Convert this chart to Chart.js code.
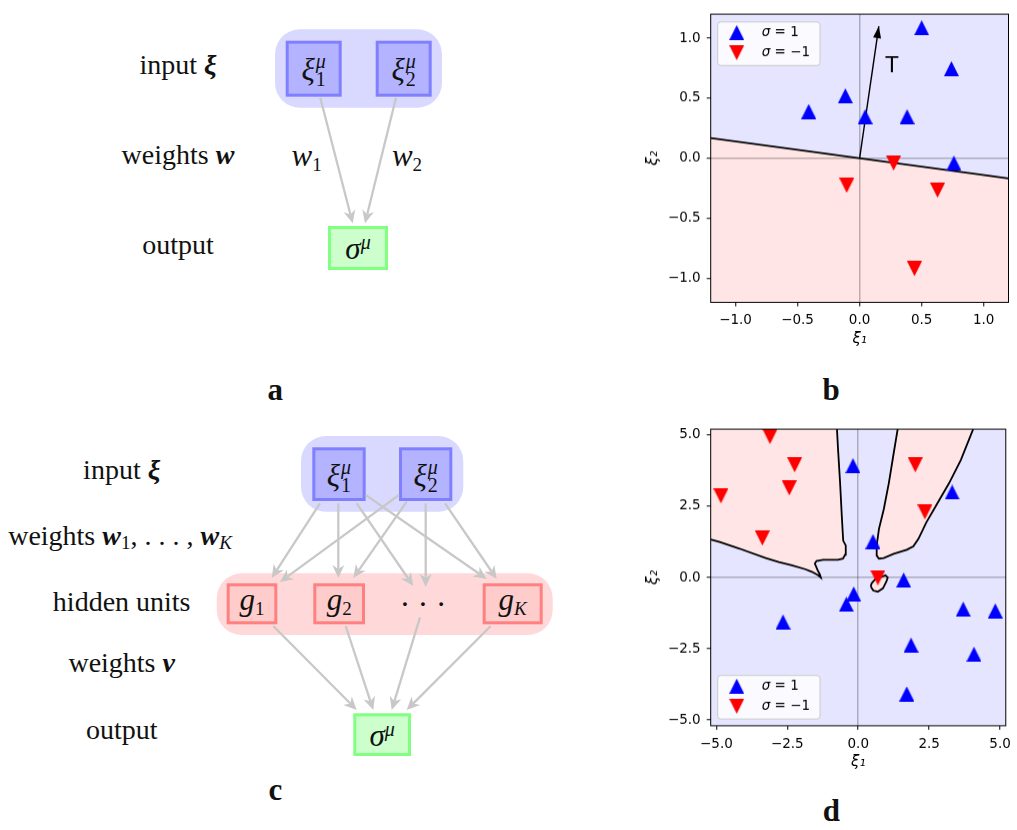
<!DOCTYPE html>
<html>
<head>
<meta charset="utf-8">
<script src="https://cdn.jsdelivr.net/npm/chart.js@4.4.0/dist/chart.umd.min.js"></script>
<style>
  body { margin: 0; background: #fff; width: 1017px; height: 830px; position: relative; overflow: hidden; font-family: "Liberation Serif", serif; color: #111; }
  #diagram { position: absolute; left: 0; top: 0; }
  .box { position: absolute; }
  .tx { position: absolute; transform: translate(-50%, -50%); white-space: nowrap; line-height: 1; }
  .lbl { font-size: 28px; }
  .m { font-size: 31px; }
  .ss { display: inline-flex; flex-direction: column; font-size: 20px; line-height: 0.9; vertical-align: 0.62em; margin-left: 1px; }
  .sup { font-size: 20px; vertical-align: 0.5em; }
  .sub { font-size: 19px; vertical-align: -0.25em; }
  .let { font-size: 31px; font-weight: bold; }
</style>
</head>
<body>
<svg id="diagram" width="640" height="830"></svg>

<!-- panel a text -->
<div class="tx lbl" style="left:178px;top:65px">input <b><i>ξ</i></b></div>
<div class="tx lbl" style="left:178px;top:155px">weights <b><i>w</i></b></div>
<div class="tx lbl" style="left:178px;top:245px">output</div>
<div class="tx m" style="left:313.7px;top:70px"><i>ξ</i><span class="ss"><i>μ</i><span>1</span></span></div>
<div class="tx m" style="left:403.7px;top:70px"><i>ξ</i><span class="ss"><i>μ</i><span>2</span></span></div>
<div class="tx m" style="left:306.7px;top:157px"><i>w</i><span class="sub">1</span></div>
<div class="tx m" style="left:407px;top:157px"><i>w</i><span class="sub">2</span></div>
<div class="tx m" style="left:358px;top:248px"><i>σ</i><span class="sup"><i>μ</i></span></div>
<div class="tx let" style="left:275.3px;top:389px">a</div>

<!-- panel c text -->
<div class="tx lbl" style="left:121.7px;top:470px">input <b><i>ξ</i></b></div>
<div class="tx lbl" style="left:120px;top:537px">weights <b><i>w</i></b><span class="sub">1</span>, . . . , <b><i>w</i></b><span class="sub"><i>K</i></span></div>
<div class="tx lbl" style="left:121.7px;top:602px">hidden units</div>
<div class="tx lbl" style="left:121.7px;top:663px">weights <b><i>v</i></b></div>
<div class="tx lbl" style="left:121.7px;top:730px">output</div>
<div class="tx m" style="left:339px;top:475.5px"><i>ξ</i><span class="ss"><i>μ</i><span>1</span></span></div>
<div class="tx m" style="left:425.7px;top:475.5px"><i>ξ</i><span class="ss"><i>μ</i><span>2</span></span></div>
<div class="tx m" style="left:252px;top:601px"><i>g</i><span class="sub">1</span></div>
<div class="tx m" style="left:339.2px;top:601px"><i>g</i><span class="sub">2</span></div>
<div class="tx m" style="left:423px;top:604px">· · ·</div>
<div class="tx m" style="left:512.7px;top:601px"><i>g</i><span class="sub"><i>K</i></span></div>
<div class="tx m" style="left:382.2px;top:734.7px"><i>σ</i><span class="sup"><i>μ</i></span></div>
<div class="tx let" style="left:275.3px;top:789px">c</div>

<div class="tx let" style="left:831px;top:389px">b</div>
<div class="tx let" style="left:831.3px;top:810px">d</div>

<div class="box" style="left:640px;top:0;width:377px;height:351.5px"><canvas id="chartB"></canvas></div>
<div class="box" style="left:640px;top:415px;width:377px;height:359.5px"><canvas id="chartD"></canvas></div>

<script>
// panel b data
const bLim = 1.2;
const bTicks = [-1, -0.5, 0, 0.5, 1];
const bBlueX = [-0.41, -0.115, 0.045, 0.50, 0.383, 0.74, 0.76];
const bBlueY = [0.39, 0.52, 0.346, 1.087, 0.346, 0.746, -0.04];
const bRedX = [0.274, -0.104, 0.628, 0.442];
const bRedY = [-0.04, -0.226, -0.266, -0.919];
const bLineX = [-1.2, 1.2];
const bLineY = [0.168, -0.168];
const bArrowX = [0, 0.155];
const bArrowY = [0, 1.1];

// panel d data
const dLim = 5.2;
const dTicks = [-5, -2.5, 0, 2.5, 5];
const dBlueX = [-0.185, 3.31, 0.52, 1.6, -0.16, -0.42, -2.65, 3.70, 4.83, 1.86, 4.08, 1.71];
const dBlueY = [3.92, 2.99, 1.26, -0.09, -0.58, -0.94, -1.56, -1.11, -1.17, -2.37, -2.69, -4.08];
const dRedX = [-3.11, -2.24, -2.43, -4.84, -3.38, 2.01, 2.35, 0.69];
const dRedY = [4.94, 3.95, 3.14, 2.86, 1.38, 3.95, 2.30, -0.01];
const dEdge1X = [-5.2, -4.88, -4.18, -3.26, -2.80, -2.34, -1.87, -1.64, -1.41, -1.32, -1.35, -1.43, -1.53, -1.47, -1.24, -0.72, -0.54, -0.46, -0.44, -0.53, -0.58, -0.64, -0.71, -0.75];
const dEdge1Y = [1.33, 1.24, 1.01, 0.68, 0.54, 0.43, 0.29, 0.20, 0.08, 0.0, 0.10, 0.25, 0.49, 0.58, 0.62, 0.62, 0.66, 0.80, 1.12, 1.29, 2.16, 3.32, 4.47, 5.2];
const dEdge2X = [1.39, 1.25, 1.08, 0.90, 0.73, 0.65, 0.65, 0.73, 0.90, 1.25, 1.71, 1.94, 2.12, 2.40, 2.75, 3.21, 3.62, 4.05];
const dEdge2Y = [5.2, 4.36, 3.32, 2.39, 1.70, 1.12, 0.77, 0.66, 0.68, 0.83, 0.97, 1.09, 1.35, 1.93, 2.53, 3.32, 4.13, 5.2];
const dEdge3X = [0.44, 0.53, 0.69, 0.87, 0.99, 1.04, 0.96, 0.79, 0.59, 0.47, 0.44];
const dEdge3Y = [-0.32, -0.46, -0.50, -0.38, -0.15, 0.0, 0.08, 0.01, -0.07, -0.21, -0.32];

const blueFill = '#e5e5ff';
const redFill = '#ffe5e5';

function tri(color, down) {
  const c = document.createElement('canvas');
  c.width = 15; c.height = 15;
  const g = c.getContext('2d');
  g.fillStyle = color;
  g.beginPath();
  if (down) { g.moveTo(0, 0); g.lineTo(15, 0); g.lineTo(7.5, 15); }
  else { g.moveTo(7.5, 0); g.lineTo(15, 15); g.lineTo(0, 15); }
  g.closePath();
  g.fill();
  return c;
}
const upBlue = tri('#0000ff', false);
const downRed = tri('#ff0000', true);

const pts = (xs, ys) => xs.map((v, i) => ({x: v, y: ys[i]}));
const fmt = v => (v < 0 ? '\u2212' : '') + Math.abs(v).toFixed(1);

function marks(label, xs, ys, style) {
  return { label: label, data: pts(xs, ys), pointStyle: style, pointRadius: 7.5, order: 0 };
}
function edge(xs, ys, w) {
  return { data: pts(xs, ys), showLine: true, borderColor: '#000', borderWidth: w, pointRadius: 0, fill: false, order: 1 };
}

function panelPlugin(cfg) {
  return {
    id: 'panel',
    beforeDraw(chart) {
      const {ctx, chartArea: a, scales: {x, y}} = chart;
      ctx.save();
      ctx.beginPath(); ctx.rect(a.left, a.top, a.width, a.height); ctx.clip();
      cfg.regions.forEach(r => {
        ctx.beginPath();
        r.xs.forEach((v, i) => {
          const px = x.getPixelForValue(v), py = y.getPixelForValue(r.ys[i]);
          i ? ctx.lineTo(px, py) : ctx.moveTo(px, py);
        });
        ctx.closePath();
        ctx.fillStyle = r.color;
        ctx.fill();
      });
      ctx.restore();
    },
    afterDraw(chart) {
      const {ctx, chartArea: a, scales: {x, y}} = chart;
      ctx.save();
      if (cfg.arrow) {
        const n = cfg.arrow.xs.length;
        const sx = x.getPixelForValue(cfg.arrow.xs[n - 2]), sy = y.getPixelForValue(cfg.arrow.ys[n - 2]);
        const ex = x.getPixelForValue(cfg.arrow.xs[n - 1]), ey = y.getPixelForValue(cfg.arrow.ys[n - 1]);
        const len = Math.hypot(ex - sx, ey - sy), ux = (ex - sx) / len, uy = (ey - sy) / len;
        ctx.fillStyle = '#000';
        ctx.beginPath();
        ctx.moveTo(ex, ey);
        ctx.lineTo(ex - ux * 12 - uy * 4, ey - uy * 12 + ux * 4);
        ctx.lineTo(ex - ux * 12 + uy * 4, ey - uy * 12 - ux * 4);
        ctx.closePath();
        ctx.fill();
        ctx.font = '21px "DejaVu Sans"';
        ctx.textAlign = 'center'; ctx.textBaseline = 'middle';
        ctx.fillText(cfg.arrow.text, x.getPixelForValue(cfg.arrow.tx), y.getPixelForValue(cfg.arrow.ty));
      }
      ctx.strokeStyle = '#000'; ctx.lineWidth = 1;
      ctx.strokeRect(a.left, a.top, a.width, a.height);

      const bx = a.left + 7, bw = 102.3, bh = 43.5;
      const by = cfg.legendTop ? a.top + 7.7 : a.bottom - 6.7 - bh;
      ctx.beginPath();
      ctx.roundRect(bx, by, bw, bh, 3);
      ctx.fillStyle = 'rgba(255,255,255,0.8)';
      ctx.fill();
      ctx.strokeStyle = '#cccccc';
      ctx.stroke();
      ctx.textAlign = 'left'; ctx.textBaseline = 'middle';
      chart.data.datasets.filter(d => d.label).forEach((d, i) => {
        const cy = by + 10.7 + i * 20;
        ctx.drawImage(d.pointStyle, bx + 19 - 7.5, cy - 7.5);
        ctx.fillStyle = '#000';
        ctx.font = 'italic 13.5px "DejaVu Sans"';
        ctx.fillText(d.label.charAt(0), bx + 44, cy);
        const w = ctx.measureText(d.label.charAt(0)).width;
        ctx.font = '13.5px "DejaVu Sans"';
        ctx.fillText(d.label.slice(1), bx + 44 + w, cy);
      });
      ctx.restore();
    }
  };
}

function axis(lim, ticks, title, fit) {
  return {
    type: 'linear', min: -lim, max: lim,
    afterBuildTicks: s => { s.ticks = ticks.map(v => ({value: v})); },
    afterFit: fit,
    ticks: { callback: v => fmt(v), color: '#000', padding: 6, maxRotation: 0, autoSkip: false,
             font: { family: 'DejaVu Sans', size: 13.5 } },
    grid: { color: c => (c.tick && c.tick.value === 0) ? 'rgba(0,0,0,0.25)' : 'rgba(0,0,0,0)',
            lineWidth: 1.5, tickColor: '#000', tickLength: 4, tickWidth: 1 },
    border: { display: false },
    title: { display: true, text: title, color: '#000', padding: { top: 4, bottom: 4 },
             font: { family: 'DejaVu Sans', size: 15, style: 'italic' } }
  };
}

function makeChart(id, cfg) {
  return new Chart(document.getElementById(id), {
    type: 'scatter',
    data: { datasets: cfg.datasets },
    options: {
      responsive: true, maintainAspectRatio: false, animation: false, events: [],
      layout: { padding: cfg.padding },
      plugins: { legend: { display: false }, tooltip: { enabled: false } },
      scales: {
        x: axis(cfg.lim, cfg.ticks, 'ξ\u2081', s => { s.height = cfg.xh; }),
        y: axis(cfg.lim, cfg.ticks, 'ξ\u2082', s => { s.width = 70.7; })
      }
    },
    plugins: [panelPlugin(cfg)]
  });
}

makeChart('chartB', {
  lim: bLim, ticks: bTicks, xh: 50,
  padding: { top: 3.3, right: 6, left: 0, bottom: 0 },
  legendTop: true,
  regions: [
    { xs: [-bLim, bLim, bLineX[1], bLineX[0]], ys: [bLim, bLim, bLineY[1], bLineY[0]], color: blueFill },
    { xs: [bLineX[0], bLineX[1], bLim, -bLim], ys: [bLineY[0], bLineY[1], -bLim, -bLim], color: redFill }
  ],
  arrow: { xs: bArrowX, ys: bArrowY, text: 'T', tx: 0.26, ty: 0.76 },
  datasets: [
    marks('σ = 1', bBlueX, bBlueY, upBlue),
    marks('σ = \u22121', bRedX, bRedY, downRed),
    edge(bLineX, bLineY, 1.8),
    edge(bArrowX, bArrowY, 1.4)
  ]
});

makeChart('chartD', {
  lim: dLim, ticks: dTicks, xh: 49.6,
  padding: { top: 12.7, right: 6, left: 0, bottom: 0 },
  legendTop: false,
  regions: [
    { xs: [-dLim, dLim, dLim, -dLim], ys: [dLim, dLim, -dLim, -dLim], color: blueFill },
    { xs: dEdge1X.concat([-dLim]), ys: dEdge1Y.concat([dLim]), color: redFill },
    { xs: dEdge2X, ys: dEdge2Y, color: redFill },
    { xs: dEdge3X, ys: dEdge3Y, color: redFill }
  ],
  datasets: [
    marks('σ = 1', dBlueX, dBlueY, upBlue),
    marks('σ = \u22121', dRedX, dRedY, downRed),
    edge(dEdge1X, dEdge1Y, 1.8),
    edge(dEdge2X, dEdge2Y, 1.8),
    edge(dEdge3X, dEdge3Y, 1.8)
  ]
});

// network diagrams a and c
const svgNS = 'http://www.w3.org/2000/svg';
const svg = document.getElementById('diagram');
function add(tag, attrs) {
  const el = document.createElementNS(svgNS, tag);
  Object.keys(attrs).forEach(k => el.setAttribute(k, attrs[k]));
  svg.appendChild(el);
  return el;
}
// [left, top, right, bottom, fill, stroke, radius]
const groups = [
  [275, 29.3, 442, 107.7, '#d9d9ff', 'none', 25],
  [301, 436, 463.3, 511.7, '#d9d9ff', 'none', 25],
  [216.7, 573.3, 552.7, 635, '#ffd9d9', 'none', 25]
];
const nodes = [
  [285.7, 40.7, 341.7, 96.7, '#b3b3ff', '#8080ff'],
  [375.7, 40.7, 431.7, 96.7, '#b3b3ff', '#8080ff'],
  [328, 226, 388, 270, '#ccffcc', '#80ff80'],
  [312.3, 447.3, 365.7, 501, '#b3b3ff', '#8080ff'],
  [399, 447.3, 452.3, 501, '#b3b3ff', '#8080ff'],
  [226.7, 583.3, 277.3, 624.3, '#ffcccc', '#ff8080'],
  [313.3, 583.3, 365, 624.3, '#ffcccc', '#ff8080'],
  [482.7, 583.3, 542.7, 624.3, '#ffcccc', '#ff8080'],
  [353.3, 713.3, 411, 756, '#ccffcc', '#80ff80']
];
const arrows = [
  [320.3, 97.7, 352.7, 223.3], [396, 97.7, 365, 223.3],
  [320, 503.3, 271.7, 578], [338.3, 503.3, 338.3, 578], [356.7, 503.3, 413.3, 586], [365.7, 495, 486.7, 579],
  [399, 495, 280, 582], [406.7, 501.7, 353.3, 578], [425.7, 503.3, 425.7, 587], [445, 503.3, 496.7, 579],
  [273.3, 626, 356.7, 710], [345.7, 626, 373.3, 710], [420, 617.3, 391.7, 710], [490.7, 626, 406.7, 710]
];
groups.forEach(g => add('rect', { x: g[0], y: g[1], width: g[2] - g[0], height: g[3] - g[1], rx: g[6], fill: g[4] }));
nodes.forEach(n => add('rect', { x: n[0] + 1.5, y: n[1] + 1.5, width: n[2] - n[0] - 3, height: n[3] - n[1] - 3, fill: n[4], stroke: n[5], 'stroke-width': 3 }));
arrows.forEach(a => {
  const [x1, y1, x2, y2] = a;
  const len = Math.hypot(x2 - x1, y2 - y1), ux = (x2 - x1) / len, uy = (y2 - y1) / len;
  const hl = 13, hw = 6;
  add('line', { x1: x1, y1: y1, x2: x2 - ux * hl * 0.7, y2: y2 - uy * hl * 0.7, stroke: '#c8c8c8', 'stroke-width': 2.3 });
  const p = [
    [x2, y2],
    [x2 - ux * hl - uy * hw, y2 - uy * hl + ux * hw],
    [x2 - ux * hl * 0.7, y2 - uy * hl * 0.7],
    [x2 - ux * hl + uy * hw, y2 - uy * hl - ux * hw]
  ];
  add('polygon', { points: p.map(q => q.join(',')).join(' '), fill: '#c8c8c8' });
});
</script>
</body>
</html>
